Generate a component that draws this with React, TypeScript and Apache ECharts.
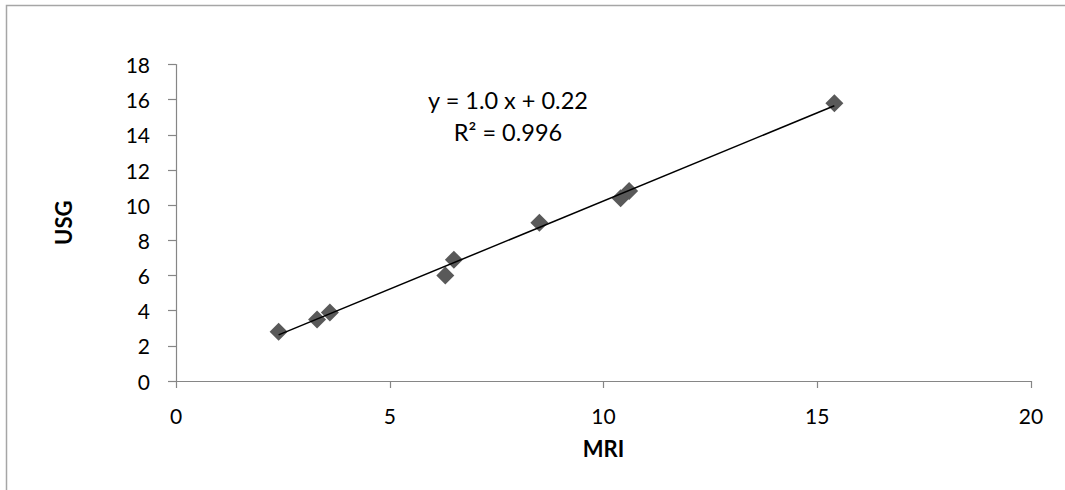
import React, { useEffect, useRef } from "react";
import * as echarts from "echarts";

// Data
const mriValues: number[] = [2.4, 3.3, 3.6, 6.3, 6.5, 8.5, 10.4, 10.6, 15.4];
const usgValues: number[] = [2.8, 3.5, 3.9, 6.0, 6.9, 9.0, 10.4, 10.8, 15.8];
const equationLabel = "y = 1.0 x + 0.22";
const r2Label = "R² = 0.996";
const xTitle = "MRI";
const yTitle = "USG";

function linearFit(xs: number[], ys: number[]) {
  const n = xs.length;
  const mx = xs.reduce((a, b) => a + b, 0) / n;
  const my = ys.reduce((a, b) => a + b, 0) / n;
  let sxy = 0;
  let sxx = 0;
  for (let i = 0; i < n; i++) {
    sxy += (xs[i] - mx) * (ys[i] - my);
    sxx += (xs[i] - mx) * (xs[i] - mx);
  }
  const slope = sxy / sxx;
  return { slope, intercept: my - slope * mx };
}

const FONT = "Lato, 'Noto Sans', sans-serif";

export default function App() {
  const ref = useRef<HTMLDivElement>(null);

  useEffect(() => {
    if (!ref.current) return;
    const chart = echarts.init(ref.current, null, { renderer: "svg" });
    const points = mriValues.map((x, i) => [x, usgValues[i]]);
    const fit = linearFit(mriValues, usgValues);
    const xMin = Math.min(...mriValues);
    const xMax = Math.max(...mriValues);
    const trend = [
      [xMin, fit.slope * xMin + fit.intercept],
      [xMax, fit.slope * xMax + fit.intercept],
    ];

    chart.setOption({
      animation: false,
      backgroundColor: "#ffffff",
      textStyle: { fontFamily: FONT },
      grid: { left: 176, top: 64.5, width: 855, height: 316.5, containLabel: false },
      xAxis: {
        type: "value",
        min: 0,
        max: 20,
        interval: 5,
        name: xTitle,
        nameLocation: "middle",
        nameGap: 56,
        nameTextStyle: { fontFamily: FONT, fontSize: 22, fontWeight: "bold", color: "#000" },
        axisLine: { show: true, lineStyle: { color: "#868686", width: 1.2 } },
        axisTick: { show: true, length: 7, lineStyle: { color: "#868686", width: 1.2 } },
        axisLabel: { margin: 24, fontFamily: FONT, fontSize: 21, color: "#000" },
        splitLine: { show: false },
      },
      yAxis: {
        type: "value",
        min: 0,
        max: 18,
        interval: 2,
        name: yTitle,
        nameLocation: "middle",
        nameGap: 102,
        nameRotate: 90,
        nameTextStyle: { fontFamily: FONT, fontSize: 22, fontWeight: "bold", color: "#000" },
        axisLine: { show: true, onZero: false, lineStyle: { color: "#868686", width: 1.2 } },
        axisTick: { show: true, length: 8, lineStyle: { color: "#868686", width: 1.2 } },
        axisLabel: { margin: 26, fontFamily: FONT, fontSize: 21, color: "#000" },
        splitLine: { show: false },
      },
      series: [
        {
          type: "line",
          data: trend,
          showSymbol: false,
          symbol: "none",
          lineStyle: { color: "#000", width: 1.5 },
          z: 3,
          silent: true,
        },
        {
          type: "scatter",
          data: points,
          symbol: "diamond",
          symbolSize: 18,
          itemStyle: { color: "#595959", opacity: 1 },
          z: 2,
        },
      ],
      graphic: [
        {
          type: "rect",
          shape: { x: 6.5, y: 5.5, width: 1200, height: 700 },
          style: { fill: "none", stroke: "#a6a6a6", lineWidth: 1.5 },
          silent: true,
          z: -10,
        },
        {
          type: "text",
          x: 508,
          y: 100,
          style: {
            text: equationLabel,
            fontFamily: FONT,
            fontSize: 23.5,
            fill: "#000",
            align: "center",
            verticalAlign: "middle",
          },
        },
        {
          type: "text",
          x: 508,
          y: 132,
          style: {
            text: r2Label,
            fontFamily: FONT,
            fontSize: 23.5,
            fill: "#000",
            align: "center",
            verticalAlign: "middle",
          },
        },
      ],
    });

    return () => chart.dispose();
  }, []);

  return (
    <div
      ref={ref}
      style={{ position: "fixed", left: 0, top: 0, width: 1065, height: 490 }}
    />
  );
}
